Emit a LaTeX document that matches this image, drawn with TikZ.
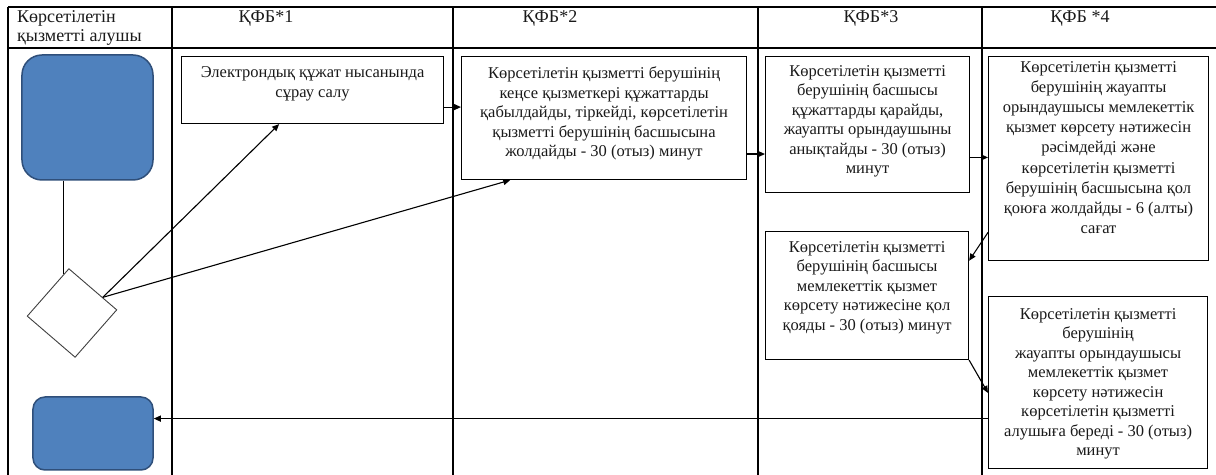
\documentclass[tikz,border=0pt]{standalone}
\usepackage{fontspec}
\setmainfont{Liberation Serif}
\usetikzlibrary{arrows.meta,shapes.geometric,calc}
\definecolor{bluefill}{HTML}{4F81BD}
\definecolor{blueborder}{HTML}{2F4F7A}
\definecolor{txtcol}{HTML}{1A1A1A}
\begin{document}
\begin{tikzpicture}[x=1bp,y=-1bp,
  tbl/.style={line width=1.2bp, black},
  procbox/.style={draw, line width=1.1bp, inner sep=0, anchor=north west},
  boxtxt/.style={anchor=north, inner sep=0, align=center, text=txtcol, font=\fontsize{16.5bp}{19.5bp}\selectfont},
  hdr/.style={inner sep=0, text=txtcol, font=\fontsize{18bp}{19bp}\selectfont},
  bluebox/.style={draw=blueborder, fill=bluefill, line width=1.5bp, inner sep=0},
  conn/.style={line width=1.1bp, -{Triangle[length=7bp,width=6bp]}},
  plain/.style={line width=1.1bp}]
\useasboundingbox (0,0) rectangle (1216,475);
\fill[white] (0,0) rectangle (1216,475);
% table grid
\draw[tbl] (8,7) -- (1216,7);
\draw[tbl] (8,48) -- (1216,48);
\foreach \xx in {8,172,453,758,982} \draw[tbl] (\xx,7) -- (\xx,475);
% headers
\node[hdr, anchor=north west, align=left] (h0) at (17,10) {Көрсетілетін\\қызметті алушы};
\node[hdr, anchor=north] (h1) at (266,10) {ҚФБ*1};
\node[hdr, anchor=north] (h2) at (550,10) {ҚФБ*2};
\node[hdr, anchor=north] (h3) at (871,10) {ҚФБ*3};
\node[hdr, anchor=north] (h4) at (1080,10) {ҚФБ *4};
% blue terminals
\node[bluebox, rounded corners=20bp, minimum width=131bp, minimum height=125bp] (s0) at (87.5,117.5) {};
\node[bluebox, rounded corners=12bp, minimum width=120bp, minimum height=73bp] (e0) at (93,433.5) {};
% decision
\node[diamond, draw=black!75, line width=0.9bp, fill=white, minimum width=90bp, minimum height=89bp, inner sep=0, rotate=4] (dia) at (72,313) {};
% process boxes
\node[procbox, minimum width=262bp, minimum height=67bp] (b1) at (181,56) {};
\node[boxtxt] (t1) at ($(b1.north)+(0,10.5)$) {Электрондық құжат нысанында\\сұрау салу};
\node[procbox, minimum width=285bp, minimum height=123bp] (b2) at (461,56) {};
\node[boxtxt] (t2) at ($(b2.north)+(0,10.5)$) {Көрсетілетін қызметті берушінің\\кеңсе қызметкері құжаттарды\\қабылдайды, тіркейді, көрсетілетін\\қызметті берушінің басшысына\\жолдайды - 30 (отыз) минут};
\node[procbox, minimum width=204bp, minimum height=136bp] (b3) at (765,56) {};
\node[boxtxt] (t3) at ($(b3.north)+(0,9)$) {Көрсетілетін қызметті\\берушінің басшысы\\құжаттарды қарайды,\\жауапты орындаушыны\\анықтайды - 30 (отыз)\\минут};
\node[procbox, minimum width=220bp, minimum height=204bp] (b4) at (988,56) {};
\node[boxtxt, font=\fontsize{16.5bp}{20.2bp}\selectfont] (t4) at ($(b4.north)+(0,5)$) {Көрсетілетін қызметті\\берушінің жауапты\\орындаушысы мемлекеттік\\қызмет көрсету нәтижесін\\рәсімдейді және\\көрсетілетін қызметті\\берушінің басшысына қол\\қоюға жолдайды - 6 (алты)\\сағат};
\node[procbox, minimum width=203bp, minimum height=128bp] (b5) at (765,231) {};
\node[boxtxt] (t5) at ($(b5.north)+(0,10)$) {Көрсетілетін қызметті\\берушінің басшысы\\мемлекеттік қызмет\\көрсету нәтижесіне қол\\қояды - 30 (отыз) минут};
\node[procbox, minimum width=219bp, minimum height=172bp] (b6) at (988,296) {};
\node[boxtxt] (t6) at ($(b6.north)+(0,12)$) {Көрсетілетін қызметті\\берушінің\\жауапты орындаушысы\\мемлекеттік қызмет\\көрсету нәтижесін\\көрсетілетін қызметті\\алушыға береді - 30 (отыз)\\минут};
% connectors
\coordinate (dtop) at ($(dia.north)!0.13!(dia.west)$);
\draw[plain] (s0.south -| dtop) -- (dtop);
\coordinate (dout) at ($(dia.north)!0.7!(dia.east)$);
\draw[conn] (dout) -- ($(b1.south west)!0.373!(b1.south east)$);
\draw[conn] (dout) -- ($(b2.south west)!0.172!(b2.south east)$);
\coordinate (c12) at ($(b1.north east)!0.75!(b1.south east)$);
\draw[conn] (c12) -- (c12 -| b2.west);
\coordinate (c23) at ($(b2.north east)!0.79!(b2.south east)$);
\draw[conn] (c23) -- (c23 -| b3.west);
\coordinate (c34) at ($(b3.north east)!0.74!(b3.south east)$);
\draw[conn] (c34) -- (c34 -| b4.west);
\draw[conn] ($(b4.north west)!0.86!(b4.south west)$) -- ($(b5.north east)!0.23!(b5.south east)$);
\draw[conn] (b5.south east) -- ($(b6.north west)!0.56!(b6.south west)$);
\coordinate (e0in) at ($(e0.north east)!0.3!(e0.south east)$);
\draw[conn] (e0in -| b6.west) -- (e0in);
\end{tikzpicture}
\end{document}
